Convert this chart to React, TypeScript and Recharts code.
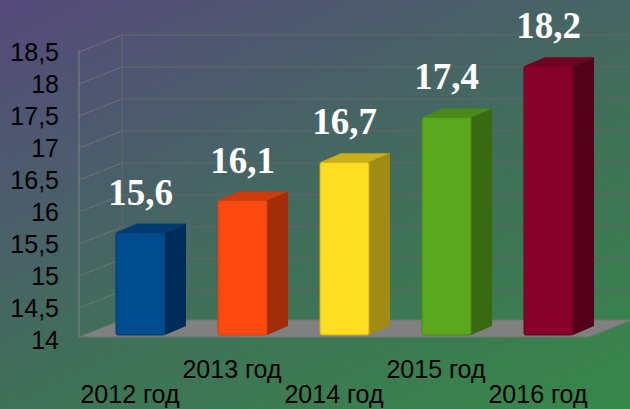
import React from 'react';
import { BarChart, Bar, XAxis, YAxis, CartesianGrid, LabelList } from 'recharts';

const years = ['2012 год', '2013 год', '2014 год', '2015 год', '2016 год'];
const values = [15.6, 16.1, 16.7, 17.4, 18.2];
const yTicks = [14, 14.5, 15, 15.5, 16, 16.5, 17, 17.5, 18, 18.5];
const faceColors = ['#004b8d', '#ff4a0f', '#ffdd22', '#5ba71e', '#87002a'];
const sideColors = ['#002c5a', '#a32d0a', '#a08c14', '#386a12', '#53001a'];
const topColors = ['#003a70', '#cf3c0c', '#c9b018', '#4a8a18', '#6e0022'];

const data = years.map((year, i) => ({ year, value: values[i] }));

const DX = 43;
const DY = 17;
const BDX = 21;
const BDY = 9;
const SHIFT_X = 10;
const SHIFT_Y = -5;

const fmt = (v: number) => String(v).replace('.', ',');

const Bar3D = (props: any) => {
  const { x, y, width, height, index } = props;
  const fx = x + SHIFT_X;
  const fy = y + SHIFT_Y;
  const i = index ?? 0;
  return (
    <g>
      <path
        d={`M${fx + width},${fy} L${fx + width + BDX},${fy - BDY} L${fx + width + BDX},${fy + height - BDY} L${fx + width},${fy + height} Z`}
        fill={sideColors[i]}
      />
      <path
        d={`M${fx},${fy} L${fx + BDX},${fy - BDY} L${fx + width + BDX},${fy - BDY} L${fx + width},${fy} Z`}
        fill={topColors[i]}
      />
      <rect x={fx} y={fy} width={width} height={height} fill={faceColors[i]} stroke={topColors[i]} strokeWidth={1} rx={2} />
    </g>
  );
};

const HLine = (props: any) => {
  const { x1, x2, y1, index } = props;
  return (
    <g key={`h-${index}`}>
      {index === 0 && (
        <path
          d={`M${x1},${y1 - 3} L${x2},${y1 - 3} L${x2 + DX},${y1 - 3 - DY} L${x1 + DX},${y1 - 3 - DY} Z`}
          fill="#808080"
          stroke="#747474"
          strokeWidth={1}
        />
      )}
      {index !== 0 && (
        <line x1={x1 + DX} y1={y1 - DY} x2={x2 + DX} y2={y1 - DY} stroke="#5a6666" strokeWidth={1.3} />
      )}
      {index !== 0 && (
        <line x1={x1} y1={y1} x2={x1 + DX} y2={y1 - DY} stroke="#8c8c8c" strokeWidth={1} strokeDasharray="1.5 1.5" />
      )}
    </g>
  );
};

const VLine = (props: any) => {
  const { x1, y1, y2, index } = props;
  return (
    <g key={`v-${index}`}>
      <line x1={x1} y1={y1} x2={x1} y2={y2 - 3} stroke="#7d8585" strokeWidth={1} />
      <line x1={x1 + DX} y1={y1 - DY} x2={x1 + DX} y2={y2 - 3 - DY} stroke="#5a6666" strokeWidth={1.3} />
    </g>
  );
};

const XTick = (props: any) => {
  const { x, y, payload, index } = props;
  const i = payload?.index ?? index ?? 0;
  const dy = i % 2 === 1 ? 38 : 63;
  return (
    <text x={x} y={y + dy} textAnchor="middle" fill="#000" fontSize={25} fontFamily="'Liberation Sans', Arial, sans-serif">
      {payload.value}
    </text>
  );
};

const ValueLabel = (props: any) => {
  const { x, y, width, value } = props;
  return (
    <text
      x={x + width / 2 + SHIFT_X}
      y={y + SHIFT_Y - 28}
      textAnchor="middle"
      fill="#ffffff"
      fontSize={37}
      fontWeight="bold"
      fontFamily="'Liberation Serif', 'Times New Roman', serif"
    >
      {fmt(value)}
    </text>
  );
};

export default function App() {
  return (
    <div
      style={{
        position: 'absolute',
        left: 0,
        top: 0,
        width: 630,
        height: 409,
        overflow: 'hidden',
        background: 'linear-gradient(155deg, #56497b 0%, #4b5d6b 30%, #3f7158 58%, #378849 100%)',
      }}
    >
      <BarChart width={630} height={409} data={data} margin={{ top: 52, right: 41, left: 0, bottom: 0 }} barSize={49}>
        <CartesianGrid
          horizontal={HLine}
          vertical={VLine}
          verticalCoordinatesGenerator={(args: any) => [args.offset.left]}
        />
        <XAxis
          dataKey="year"
          interval={0}
          axisLine={false}
          tickLine={false}
          tickSize={0}
          tickMargin={0}
          height={69}
          tick={<XTick />}
        />
        <YAxis
          type="number"
          domain={[14, 18.5]}
          ticks={yTicks}
          interval={0}
          width={79}
          axisLine={false}
          tickLine={false}
          tickSize={0}
          tickMargin={20}
          tickFormatter={fmt}
          tick={{ fill: '#000', fontSize: 25, fontFamily: "'Liberation Sans', Arial, sans-serif" }}
        />
        <Bar dataKey="value" shape={<Bar3D />} isAnimationActive={false}>
          <LabelList dataKey="value" content={<ValueLabel />} />
        </Bar>
      </BarChart>
    </div>
  );
}
